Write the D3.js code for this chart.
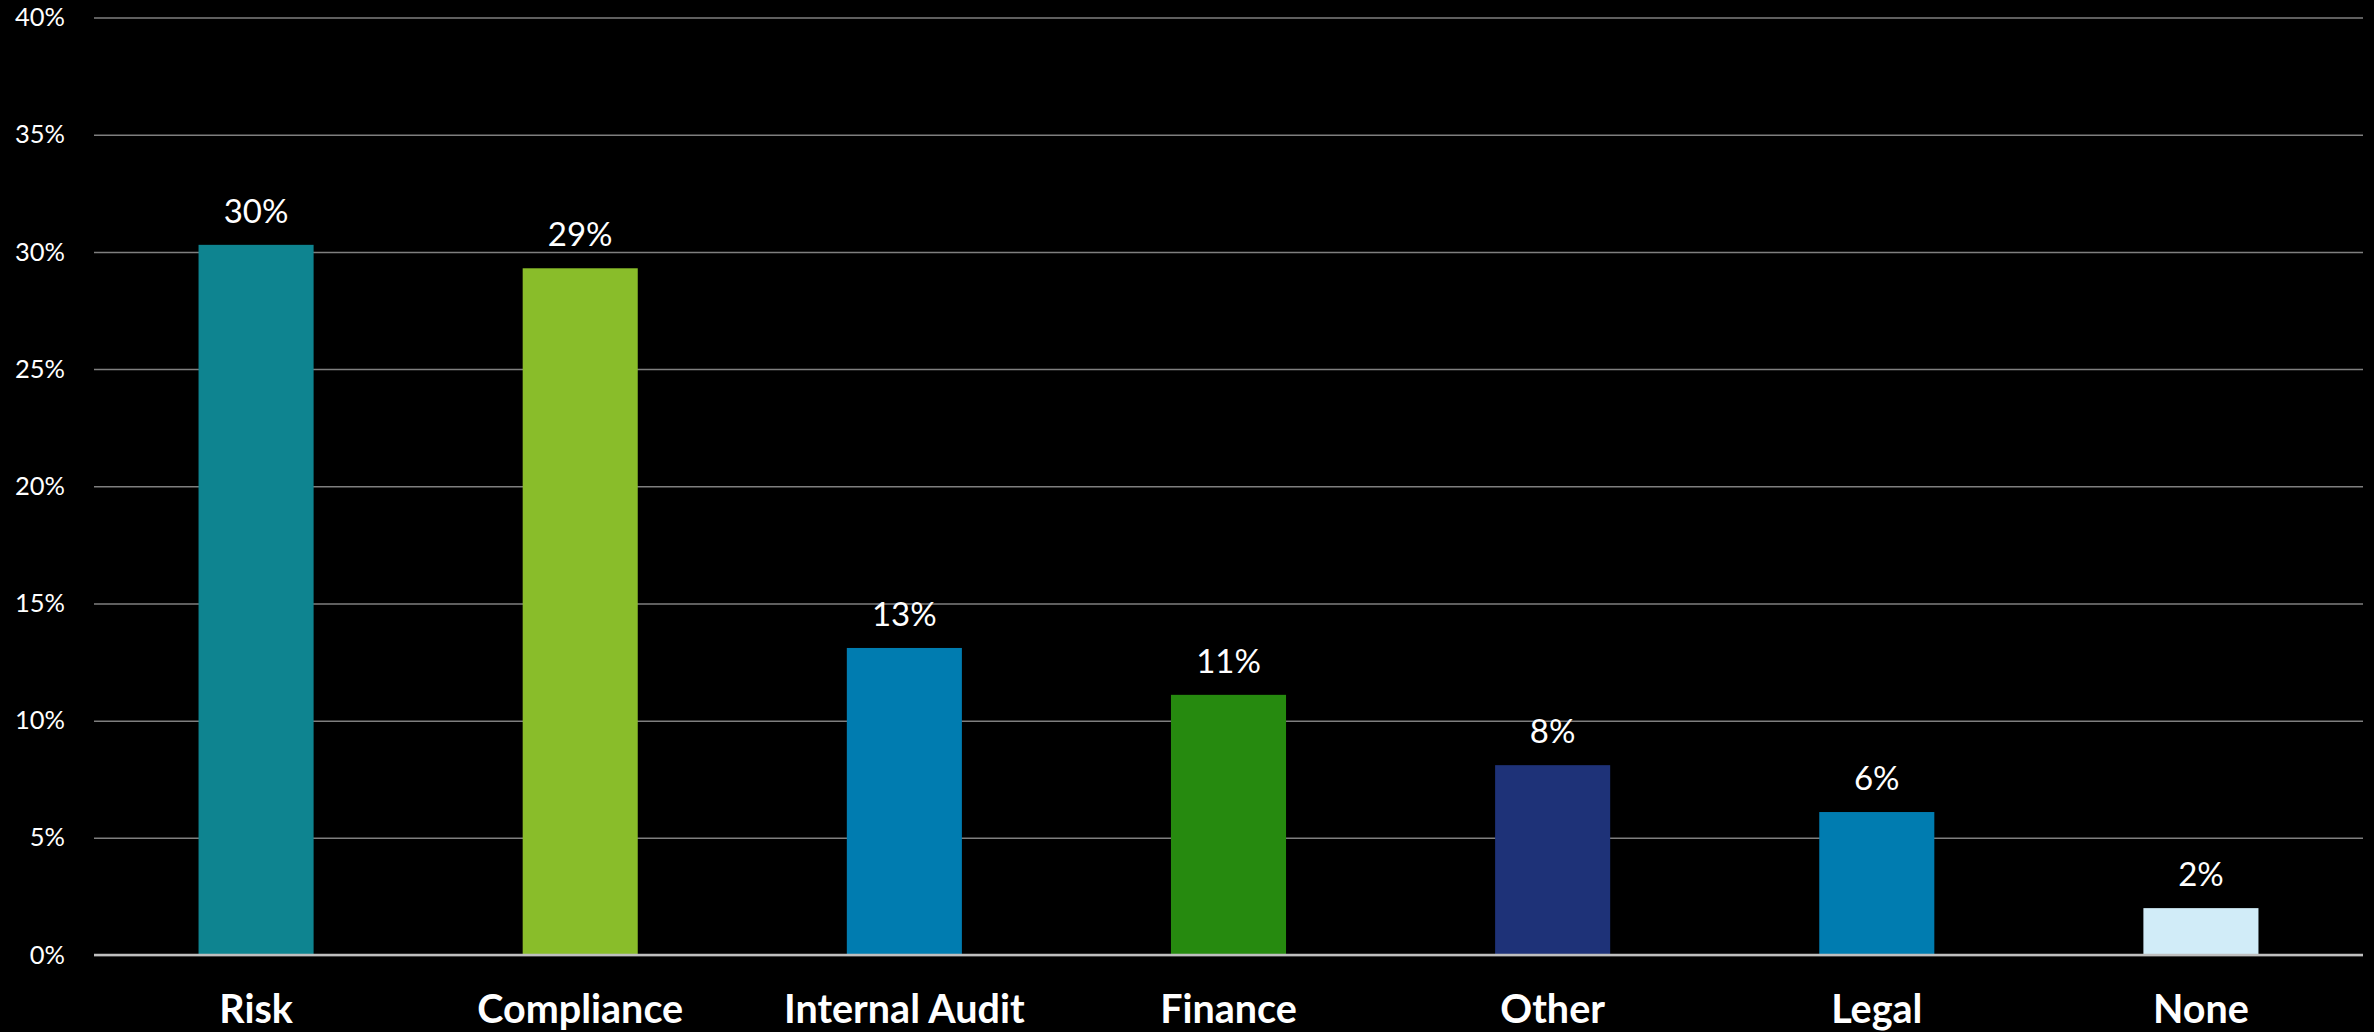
<!DOCTYPE html>
<html>
<head>
<meta charset="utf-8">
<script src="https://cdn.jsdelivr.net/npm/d3@7"></script>
<style>
  html, body { margin: 0; padding: 0; background: #000; }
  svg { display: block; }
  text { font-family: Lato, "Open Sans", sans-serif; fill: #fff; }
</style>
</head>
<body>
<svg id="chart" width="2374" height="1032"></svg>
<script>
// Reporting line of the function, share of respondents (%)
const categories = ["Risk", "Compliance", "Internal Audit", "Finance", "Other", "Legal", "None"];
const shares = [30.3, 29.3, 13.1, 11.1, 8.1, 6.1, 2.0];
const barColors = ["#0e8490", "#89bd2a", "#007cb0", "#268a0f", "#1e3278", "#007cb0", "#d1ecf8"];
const yTicks = [0, 5, 10, 15, 20, 25, 30, 35, 40];

const svg = d3.select("#chart");
const plotLeft = 94, plotRight = 2363, plotTop = 17.5, plotBottom = 955;

const x = d3.scaleBand().domain(categories).range([plotLeft, plotRight]).paddingInner(0.645).paddingOuter(0.3225);
const y = d3.scaleLinear().domain([0, 40]).range([plotBottom, plotTop]);

// horizontal gridlines with percent labels
const yAxis = d3.axisLeft(y).tickValues(yTicks).tickFormat(d => d + "%").tickSize(-(plotRight - plotLeft)).tickPadding(29);
const gy = svg.append("g").attr("transform", `translate(${plotLeft},0)`).call(yAxis);
gy.select(".domain").remove();
gy.selectAll(".tick line").attr("stroke", "#7f7f7f").attr("stroke-width", 1.5);
gy.selectAll(".tick text").attr("font-size", 25.5).attr("fill", "#fff").attr("font-family", "Lato, sans-serif");

// bars
svg.append("g").selectAll("rect").data(categories).join("rect")
  .attr("x", d => x(d))
  .attr("width", x.bandwidth())
  .attr("y", (d, i) => y(shares[i]))
  .attr("height", (d, i) => y(0) - y(shares[i]))
  .attr("fill", (d, i) => barColors[i]);

// baseline
svg.append("line").attr("x1", plotLeft).attr("x2", plotRight).attr("y1", y(0)).attr("y2", y(0))
  .attr("stroke", "#bfbfbf").attr("stroke-width", 2.5);

// value labels
svg.append("g").selectAll("text").data(categories).join("text")
  .attr("x", d => x(d) + x.bandwidth() / 2)
  .attr("y", (d, i) => y(shares[i]) - 22)
  .attr("text-anchor", "middle")
  .attr("font-size", 33)
  .text((d, i) => Math.round(shares[i]) + "%");

// category labels
const xAxis = d3.axisBottom(x).tickSize(0).tickPadding(0);
const gx = svg.append("g").attr("transform", `translate(0,${plotBottom})`).call(xAxis);
gx.select(".domain").remove();
gx.selectAll(".tick text")
  .attr("dy", null)
  .attr("y", 68)
  .attr("font-size", 39.5)
  .attr("font-weight", "bold")
  .attr("fill", "#fff")
  .attr("font-family", "Lato, sans-serif");
</script>
</body>
</html>
